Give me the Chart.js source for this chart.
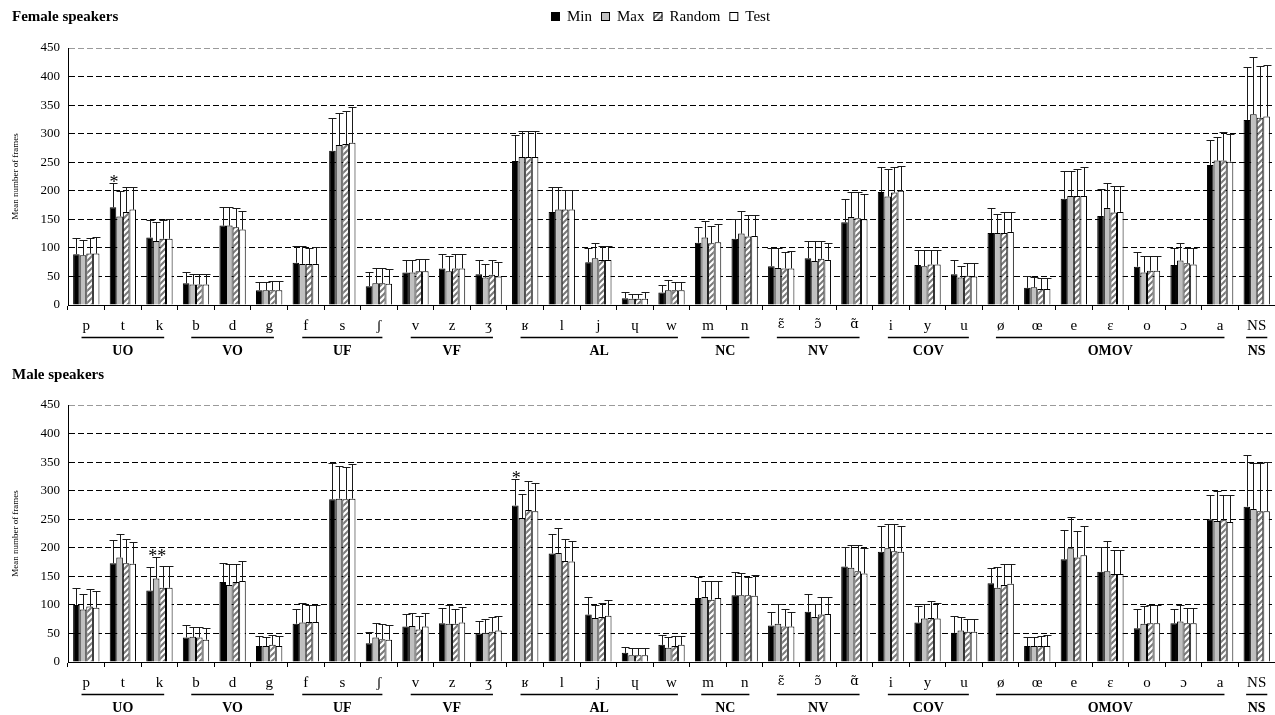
<!DOCTYPE html>
<html>
<head>
<meta charset="utf-8">
<script src="https://cdn.jsdelivr.net/npm/chart.js@4.4.1/dist/chart.umd.min.js"></script>
<style>
  html, body { margin: 0; padding: 0; background: #fff; }
  #wrap { position: relative; width: 1275px; height: 715px; overflow: hidden; }
  #wrap canvas { position: absolute; left: 0; }
  .panel-title { position: absolute; left: 12px; font: bold 15px 'Liberation Serif', 'Times New Roman', serif; line-height: 15px; color: #000; white-space: nowrap; }
</style>
</head>
<body>
<div id="wrap">
  <canvas id="female" width="1275" height="358" style="top:0"></canvas>
  <canvas id="male" width="1275" height="358" style="top:357px"></canvas>
  <div class="panel-title" style="top:9px">Female speakers</div>
  <div class="panel-title" style="top:367px">Male speakers</div>
</div>
<script>
// Phoneme categories and their phonological classes
const phonemes = ['p','t','k','b','d','g','f','s','ʃ','v','z','ʒ','ʁ','l','j','ɥ','w','m','n','ɛ̃','ɔ̃','ɑ̃','i','y','u','ø','œ','e','ɛ','o','ɔ','a','NS'];
const groupNames = ['UO','VO','UF','VF','AL','NC','NV','COV','OMOV','NS'];
const groupSizes = [3, 3, 3, 3, 5, 2, 3, 3, 7, 1];
const seriesNames = ['Min', 'Max', 'Random', 'Test'];
const yTicks = [0, 50, 100, 150, 200, 250, 300, 350, 400, 450];

// Female speakers: mean number of frames per condition
const femaleMin    = [89,171,118,38,139,26,74,270,33,57,64,54,252,163,75,12,22,109,116,68,82,145,198,70,54,126,30,186,156,67,70,245,324];
const femaleMax    = [87,155,112,36,139,26,72,280,38,57,59,48,259,167,82,11,26,118,125,65,77,154,190,68,48,126,31,191,170,57,78,253,334];
const femaleRandom = [90,163,116,36,136,26,72,282,38,59,64,53,259,167,79,11,26,108,120,64,81,152,197,71,51,126,28,191,162,60,73,253,328];
const femaleTest   = [90,167,116,36,132,26,72,284,37,59,64,50,259,167,79,11,26,110,121,64,79,150,200,71,50,128,28,191,163,60,71,251,330];
// Female speakers: standard deviations (upper error bars)
const femaleMinSD    = [29,42,31,19,33,15,29,57,24,22,26,24,46,43,24,10,13,28,34,31,30,40,44,26,25,43,21,49,47,25,29,44,92];
const femaleMaxSD    = [27,45,34,19,33,15,32,57,26,22,26,24,46,39,26,8,18,29,40,34,35,43,48,29,21,33,18,44,44,29,31,42,100];
const femaleRandomSD = [27,43,32,18,34,16,28,58,26,21,25,26,46,34,25,8,14,31,38,28,31,46,45,26,23,36,19,48,46,26,27,50,91];
const femaleTestSD   = [29,40,34,18,33,16,30,62,26,21,26,25,45,34,25,11,14,31,37,30,29,44,44,26,24,35,20,51,46,26,28,48,91];

// Male speakers: mean number of frames per condition
const maleMin    = [100,173,125,43,140,28,67,285,33,62,68,50,274,190,83,16,30,112,117,64,88,167,193,69,51,138,28,180,158,59,68,250,272];
const maleMax    = [92,183,146,44,135,28,69,286,43,63,67,51,252,191,77,12,25,114,117,67,79,165,199,76,55,130,28,199,159,67,71,247,268];
const maleRandom = [97,173,130,43,140,30,70,285,40,57,67,53,266,177,79,12,28,109,117,62,83,159,194,77,53,135,28,183,154,68,68,248,264];
const maleTest   = [95,172,130,39,142,28,70,286,39,62,69,55,264,176,81,12,30,112,116,62,84,155,193,76,53,137,28,187,154,68,68,245,264];
// Male speakers: standard deviations (upper error bars)
const maleMinSD    = [30,41,41,21,34,18,26,64,20,22,27,22,47,34,31,11,18,36,41,24,31,35,45,29,30,26,16,52,44,34,24,42,91];
const maleMaxSD    = [27,42,37,18,37,16,34,57,26,22,32,24,42,43,23,12,18,28,38,35,23,40,42,26,24,37,16,55,52,31,28,52,80];
const maleRandomSD = [31,42,38,19,32,18,30,57,27,24,26,25,51,39,25,12,18,33,32,30,30,46,47,30,23,36,18,46,42,32,27,44,85];
const maleTestSD   = [30,38,38,20,35,18,30,61,25,23,28,26,49,36,28,12,16,30,36,26,29,44,45,28,23,34,20,51,42,32,27,47,86];

// Significance markers: [phoneme, series, symbol]
const femaleMarks = [['t', 'Min', '*']];
const maleMarks   = [['k', 'Max', '**'], ['ʁ', 'Min', '*']];

const SERIF = "'Liberation Serif', 'DejaVu Serif', 'Times New Roman', serif";
// Nasal vowels use a face that stacks the combining tilde correctly
const SERIF_MARKS = "'DejaVu Serif', 'Liberation Serif', serif";
const labelFont = s => (/\u0303/.test(s) ? { family: SERIF_MARKS, size: 13 } : { family: SERIF, size: 15 });

// Diagonal hatch fill for the "Random" condition
function makeHatch() {
  const c = document.createElement('canvas');
  c.width = 6; c.height = 6;
  const g = c.getContext('2d');
  g.fillStyle = '#fff';
  g.fillRect(0, 0, 6, 6);
  g.strokeStyle = '#7a7a7a';
  g.lineWidth = 2;
  g.beginPath();
  g.moveTo(-1, 7); g.lineTo(7, -1);
  g.moveTo(-1, 1); g.lineTo(1, -1);
  g.moveTo(5, 7); g.lineTo(7, 5);
  g.stroke();
  return document.createElement('canvas').getContext('2d').createPattern(c, 'repeat');
}
const hatch = makeHatch();
const fills = ['#000000', '#c0c0c0', hatch, '#ffffff'];

// Upper error bars with caps
const errorBars = {
  id: 'errorBars',
  afterDatasetsDraw(chart) {
    const { ctx } = chart;
    const y = chart.scales.y;
    ctx.save();
    ctx.strokeStyle = '#1a1a1a';
    ctx.lineWidth = 1;
    chart.data.datasets.forEach((ds, i) => {
      const meta = chart.getDatasetMeta(i);
      meta.data.forEach((bar, j) => {
        const top = Math.round(y.getPixelForValue(ds.data[j] + ds.errors[j])) + 0.5;
        const x = Math.round(bar.x) + 0.5;
        ctx.beginPath();
        ctx.moveTo(x, bar.y);
        ctx.lineTo(x, top);
        ctx.moveTo(x - 4, top);
        ctx.lineTo(x + 4, top);
        ctx.stroke();
      });
    });
    ctx.restore();
  }
};

// Asterisks marking significant differences, placed above the error bar
const sigMarks = {
  id: 'sigMarks',
  afterDatasetsDraw(chart, args, opts) {
    const { ctx } = chart;
    const y = chart.scales.y;
    ctx.save();
    ctx.fillStyle = '#000';
    ctx.font = `18px ${SERIF}`;
    ctx.textAlign = 'center';
    ctx.textBaseline = 'alphabetic';
    (opts.marks || []).forEach(([ph, series, sym]) => {
      const di = seriesNames.indexOf(series);
      const j = phonemes.indexOf(ph);
      const ds = chart.data.datasets[di];
      const bar = chart.getDatasetMeta(di).data[j];
      const top = y.getPixelForValue(ds.data[j] + ds.errors[j]);
      ctx.fillText(sym, bar.x + 1, top + 5);
    });
    ctx.restore();
  }
};

// Class underlines and class names beneath the phoneme labels
const groupAxis = {
  id: 'groupAxis',
  afterDraw(chart) {
    const { ctx } = chart;
    const xs = chart.scales.x;
    const base = xs.top;
    ctx.save();
    let i0 = 0;
    groupNames.forEach((name, g) => {
      const i1 = i0 + groupSizes[g] - 1;
      const f0 = labelFont(phonemes[i0]), f1 = labelFont(phonemes[i1]);
      ctx.font = `${f0.size}px ${f0.family}`;
      const w0 = ctx.measureText(phonemes[i0]).width;
      ctx.font = `${f1.size}px ${f1.family}`;
      const w1 = ctx.measureText(phonemes[i1]).width;
      const xa = xs.getPixelForTick(i0) - w0 / 2 - 1;
      const xb = xs.getPixelForTick(i1) + w1 / 2 + 1;
      ctx.strokeStyle = '#000';
      ctx.lineWidth = 1.5;
      ctx.beginPath();
      ctx.moveTo(xa, base + 32.5);
      ctx.lineTo(xb, base + 32.5);
      ctx.stroke();
      ctx.font = `bold 14px ${SERIF}`;
      ctx.fillStyle = '#000';
      ctx.textAlign = 'center';
      ctx.textBaseline = 'middle';
      ctx.fillText(name, (xa + xb) / 2, base + 46);
      i0 = i1 + 1;
    });
    ctx.restore();
  }
};

// Single-row legend across the top of the first panel
const legendRow = {
  id: 'legendRow',
  afterDraw(chart, args, opts) {
    if (!opts.show) return;
    const { ctx } = chart;
    ctx.save();
    ctx.font = `15px ${SERIF}`;
    ctx.textBaseline = 'middle';
    ctx.fillStyle = '#000';
    let x = opts.x;
    const y = opts.y;
    chart.data.datasets.forEach(ds => {
      ctx.fillStyle = ds.backgroundColor;
      ctx.fillRect(x, y - 4, 9, 9);
      ctx.strokeStyle = '#000';
      ctx.lineWidth = 1;
      ctx.strokeRect(x + 0.5, y - 3.5, 8, 8);
      ctx.fillStyle = '#000';
      ctx.fillText(ds.label, x + 16, y + 1);
      x += 16 + ctx.measureText(ds.label).width + 9;
    });
    ctx.restore();
  }
};

function buildChart(id, series, errors, marks, showLegend) {
  return new Chart(document.getElementById(id), {
    type: 'bar',
    data: {
      labels: phonemes,
      datasets: seriesNames.map((name, k) => ({
        label: name,
        data: series[k],
        errors: errors[k],
        backgroundColor: fills[k],
        borderColor: '#000',
        borderWidth: 1,
        categoryPercentage: 0.72,
        barPercentage: 1.0
      }))
    },
    options: {
      responsive: false,
      animation: false,
      devicePixelRatio: 1,
      layout: { padding: { top: 48, left: 0, right: 0, bottom: 0 } },
      plugins: {
        legend: { display: false },
        tooltip: { enabled: false },
        title: { display: false },
        sigMarks: { marks },
        legendRow: { show: showLegend, x: 551, y: 16 }
      },
      scales: {
        x: {
          offset: true,
          grid: { display: true, drawOnChartArea: false, drawTicks: true, tickLength: 5, color: '#000' },
          border: { display: true, color: '#000', width: 1 },
          ticks: {
            color: '#000',
            font: c => labelFont(phonemes[c.index] || ''),
            padding: 7,
            maxRotation: 0,
            autoSkip: false
          },
          afterFit(s) { s.height = 53; }
        },
        y: {
          min: 0,
          max: 450,
          afterBuildTicks(s) { s.ticks = yTicks.map(v => ({ value: v })); },
          grid: {
            drawTicks: false,
            lineWidth: 1,
            color: c => c.tick.value === 450 ? '#9a9a9a' : (c.tick.value === 0 ? 'rgba(0,0,0,0)' : '#000')
          },
          border: { display: true, color: '#000', width: 1, dash: [6, 3] },
          ticks: { color: '#000', font: { family: SERIF, size: 13 }, padding: 8 },
          title: {
            display: true,
            text: 'Mean number of frames',
            color: '#000',
            font: { family: SERIF, size: 9 },
            padding: { top: 10, bottom: 0 }
          },
          afterFit(s) { s.width = 68; }
        }
      }
    },
    plugins: [errorBars, sigMarks, groupAxis, legendRow]
  });
}

buildChart('female',
  [femaleMin, femaleMax, femaleRandom, femaleTest],
  [femaleMinSD, femaleMaxSD, femaleRandomSD, femaleTestSD],
  femaleMarks, true);

buildChart('male',
  [maleMin, maleMax, maleRandom, maleTest],
  [maleMinSD, maleMaxSD, maleRandomSD, maleTestSD],
  maleMarks, false);
</script>
</body>
</html>
